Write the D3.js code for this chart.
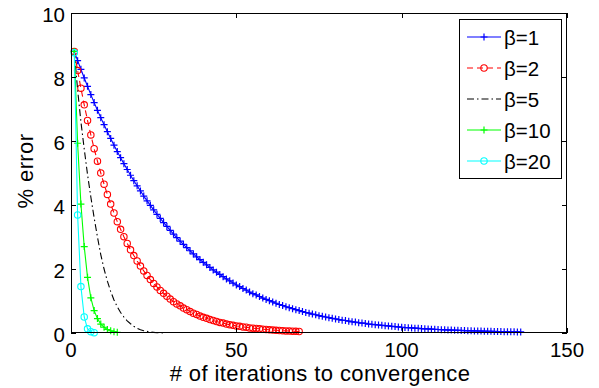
<!DOCTYPE html>
<html>
<head>
<meta charset="utf-8">
<script src="https://cdn.jsdelivr.net/npm/d3@7"></script>
<style>
  body { margin: 0; background: #fff; }
  text { font-family: "Liberation Sans", Arial, Helvetica, sans-serif; fill: #000; }
</style>
</head>
<body>
<svg id="chart" width="599" height="388"></svg>
<script>
// % error per iteration, iteration number = index + 1
const beta1 = [
  8.80, 8.51, 8.24, 7.97, 7.71, 7.45, 7.20, 6.96, 6.73, 6.51,
  6.29, 6.08, 5.87, 5.67, 5.48, 5.29, 5.11, 4.93, 4.76, 4.60,
  4.44, 4.28, 4.13, 3.99, 3.85, 3.71, 3.58, 3.45, 3.33, 3.21,
  3.09, 2.98, 2.87, 2.77, 2.67, 2.57, 2.47, 2.38, 2.29, 2.21,
  2.13, 2.05, 1.97, 1.90, 1.83, 1.76, 1.69, 1.63, 1.56, 1.50,
  1.45, 1.39, 1.34, 1.28, 1.23, 1.19, 1.14, 1.09, 1.05, 1.01,
  0.97, 0.93, 0.89, 0.86, 0.82, 0.79, 0.76, 0.73, 0.70, 0.67,
  0.64, 0.62, 0.59, 0.57, 0.54, 0.52, 0.50, 0.48, 0.46, 0.44,
  0.42, 0.40, 0.39, 0.37, 0.35, 0.34, 0.32, 0.31, 0.30, 0.28,
  0.27, 0.26, 0.25, 0.24, 0.23, 0.22, 0.21, 0.20, 0.19, 0.18,
  0.17, 0.166, 0.159, 0.152, 0.145, 0.138, 0.132, 0.126, 0.120, 0.115,
  0.110, 0.105, 0.100, 0.095, 0.091, 0.087, 0.083, 0.079, 0.075, 0.072,
  0.068, 0.065, 0.062, 0.059, 0.056, 0.054, 0.051, 0.049, 0.046, 0.044,
  0.042, 0.040, 0.038, 0.036, 0.034, 0.033
];
const beta2 = [
  8.80, 8.20, 7.65, 7.13, 6.64, 6.19, 5.76, 5.37, 5.00, 4.65,
  4.33, 4.03, 3.75, 3.48, 3.24, 3.01, 2.80, 2.60, 2.42, 2.25,
  2.09, 1.94, 1.80, 1.67, 1.55, 1.44, 1.33, 1.24, 1.15, 1.06,
  0.98, 0.91, 0.85, 0.78, 0.73, 0.67, 0.62, 0.58, 0.53, 0.49,
  0.46, 0.42, 0.39, 0.36, 0.33, 0.31, 0.28, 0.26, 0.24, 0.22,
  0.21, 0.19, 0.18, 0.16, 0.15, 0.14, 0.13, 0.12, 0.11, 0.10,
  0.092, 0.085, 0.078, 0.072, 0.066, 0.061, 0.056, 0.052, 0.047
];
const beta5 = [
  8.80, 7.60, 6.60, 5.75, 4.95, 4.25, 3.60, 3.00, 2.45, 2.00,
  1.62, 1.30, 1.03, 0.82, 0.64, 0.50, 0.38, 0.29, 0.21, 0.15,
  0.10, 0.07, 0.05, 0.03, 0.02, 0.01, 0.01, 0.00
];
const beta10 = [8.80, 5.93, 4.03, 2.70, 1.74, 1.10, 0.70, 0.45, 0.28, 0.18, 0.11, 0.07, 0.04, 0.02];
const beta20 = [8.76, 3.69, 1.45, 0.50, 0.13, 0.04, 0.01];

const seriesNames = ['β=1', 'β=2', 'β=5', 'β=10', 'β=20'];
const xTicks = [0, 50, 100, 150];
const yTicks = [0, 2, 4, 6, 8, 10];

const series = [
  {name: seriesNames[0], values: beta1, color: '#0000ff', dash: null, marker: 'plus'},
  {name: seriesNames[1], values: beta2, color: '#ff0000', dash: '6,4', marker: 'circle'},
  {name: seriesNames[2], values: beta5, color: '#000000', dash: '7,3,1.5,3', marker: null},
  {name: seriesNames[3], values: beta10, color: '#00ff00', dash: null, marker: 'plus'},
  {name: seriesNames[4], values: beta20, color: '#00ffff', dash: null, marker: 'circle'}
];

const plotLeft = 71, plotRight = 567, plotTop = 13, plotBottom = 333;
const svg = d3.select('#chart');

const x = d3.scaleLinear().domain([0, 150]).range([plotLeft, plotRight]);
const y = d3.scaleLinear().domain([0, 10]).range([plotBottom, plotTop]);

const line = d3.line()
  .x((d, i) => x(i + 1))
  .y(d => y(d));

const plot = svg.append('g');

function drawMarker(g, type, color, cx, cy, s) {
  if (type === 'plus') {
    g.append('path')
      .attr('d', `M${cx - s},${cy}H${cx + s}M${cx},${cy - s}V${cy + s}`)
      .attr('stroke', color).attr('stroke-width', 1.2).attr('fill', 'none');
  } else if (type === 'circle') {
    g.append('circle')
      .attr('cx', cx).attr('cy', cy).attr('r', s)
      .attr('stroke', color).attr('stroke-width', 1.1).attr('fill', 'none');
  }
}

series.forEach(s => {
  const g = plot.append('g');
  g.append('path')
    .attr('d', line(s.values))
    .attr('fill', 'none')
    .attr('stroke', s.color)
    .attr('stroke-width', 1.1)
    .attr('stroke-dasharray', s.dash);
  if (s.marker) {
    s.values.forEach((v, i) => {
      drawMarker(g, s.marker, s.color, x(i + 1), y(v), s.marker === 'plus' ? 3.5 : 3.2);
    });
  }
});

// axes with inward ticks on all sides
const tickLen = 5;
const axes = svg.append('g').attr('stroke', '#000').attr('stroke-width', 1).attr('fill', 'none');
axes.append('rect')
  .attr('x', plotLeft + 0.5).attr('y', plotTop + 0.5)
  .attr('width', plotRight - plotLeft - 1).attr('height', plotBottom - plotTop - 1);

xTicks.forEach(t => {
  const px = Math.round(x(t)) + 0.5;
  axes.append('path').attr('d', `M${px},${plotBottom}v${-tickLen}M${px},${plotTop}v${tickLen}`);
});
yTicks.forEach(t => {
  const py = Math.round(y(t)) + 0.5;
  axes.append('path').attr('d', `M${plotLeft},${py}h${tickLen}M${plotRight},${py}h${-tickLen}`);
});

svg.append('g').selectAll('text')
  .data(xTicks).enter().append('text')
  .attr('x', d => x(d))
  .attr('y', 357)
  .attr('text-anchor', 'middle')
  .style('font-size', '20.5px')
  .text(d => d);

svg.append('g').selectAll('text')
  .data(yTicks).enter().append('text')
  .attr('x', 65)
  .attr('y', d => y(d))
  .attr('dy', '0.42em')
  .attr('text-anchor', 'end')
  .style('font-size', '20.5px')
  .text(d => d);

svg.append('text')
  .attr('x', 320)
  .attr('y', 381)
  .attr('text-anchor', 'middle')
  .style('font-size', '22px')
  .style('letter-spacing', '0.4px')
  .text('# of iterations to convergence');

svg.append('text')
  .attr('transform', 'translate(33,171) rotate(-90)')
  .attr('text-anchor', 'middle')
  .style('font-size', '22px')
  .style('letter-spacing', '0.4px')
  .text('% error');

// legend
const legend = svg.append('g');
legend.append('rect')
  .attr('x', 459.5).attr('y', 19.5)
  .attr('width', 102).attr('height', 159)
  .attr('fill', 'white').attr('stroke', '#000').attr('stroke-width', 1);

series.forEach((s, i) => {
  const ly = 37 + i * 31;
  const g = legend.append('g');
  g.append('path')
    .attr('d', `M467,${ly}H501`)
    .attr('stroke', s.color).attr('stroke-width', 1.1)
    .attr('stroke-dasharray', s.dash);
  if (s.marker) drawMarker(g, s.marker, s.color, 484, ly, s.marker === 'plus' ? 3.5 : 3.2);
  g.append('text')
    .attr('x', 504)
    .attr('y', ly)
    .attr('dy', '0.38em')
    .style('font-size', '20.5px')
    .text(s.name);
});
</script>
</body>
</html>
